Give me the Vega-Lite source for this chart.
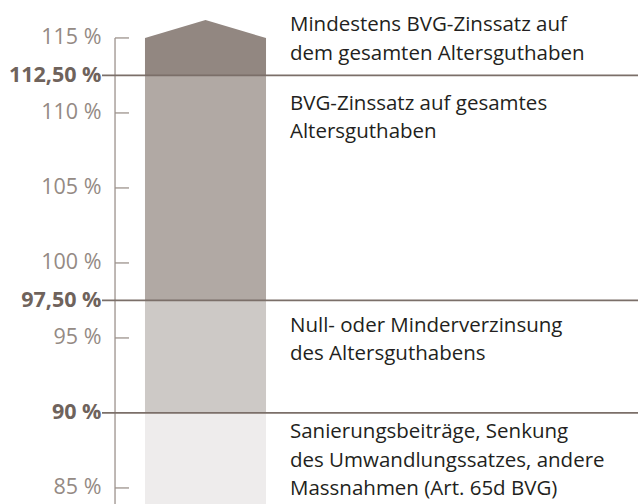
{
  "$schema": "https://vega.github.io/schema/vega-lite/v6.json",
  "width": 536,
  "height": 504,
  "autosize": "none",
  "padding": {"left": 102, "top": 0, "right": 0, "bottom": 0},
  "background": "white",
  "config": {"view": {"stroke": null}, "font": "Open Sans"},
  "datasets": {
    "bands": [
      {"band": "Sanierung", "lo": 83.93, "hi": 90},
      {"band": "Null", "lo": 90, "hi": 97.5},
      {"band": "BVG", "lo": 97.5, "hi": 112.5}
    ],
    "peak": [
      {"px": 8.02, "py": 115},
      {"px": 19.31, "py": 116.2},
      {"px": 30.6, "py": 115}
    ],
    "ticks": [{"v": 85}, {"v": 95}, {"v": 100}, {"v": 105}, {"v": 110}, {"v": 115}],
    "levels": [{"v": 90}, {"v": 97.5}, {"v": 112.5}],
    "notes": [
      {"t": ["Mindestens BVG-Zinssatz auf", "dem gesamten Altersguthaben"], "v": 115.85},
      {"t": ["BVG-Zinssatz auf gesamtes", "Altersguthaben"], "v": 110.6},
      {"t": ["Null- oder Minderverzinsung", "des Altersguthabens"], "v": 95.8},
      {"t": ["Sanierungsbeiträge, Senkung", "des Umwandlungssatzes, andere", "Massnahmen (Art. 65d BVG)"], "v": 88.7}
    ]
  },
  "layer": [
    {
      "data": {"name": "bands"},
      "mark": {"type": "rect"},
      "encoding": {
        "x": {"datum": 8.02, "type": "quantitative", "scale": {"domain": [0, 100], "nice": false, "zero": false}, "axis": null},
        "x2": {"datum": 30.6},
        "y": {"field": "lo", "type": "quantitative",
              "scale": {"domain": [83.93, 117.53], "nice": false, "zero": false},
              "axis": {
                "orient": "left", "offset": -13, "domain": false, "ticks": false, "grid": false,
                "values": [85, 90, 95, 97.5, 100, 105, 110, 112.5, 115],
                "labelExpr": "datum.value == 112.5 ? '112,50 %' : datum.value == 97.5 ? '97,50 %' : datum.value + ' %'",
                "labelFontSize": 21.5,
                "labelFont": "Open Sans",
                "labelPadding": 14,
                "labelFontWeight": {"condition": {"test": "datum.value == 112.5 || datum.value == 97.5 || datum.value == 90", "value": "bold"}, "value": "normal"},
                "labelColor": {"condition": {"test": "datum.value == 112.5 || datum.value == 97.5 || datum.value == 90", "value": "#6f635c"}, "value": "#948a84"},
                "title": null
              }},
        "y2": {"field": "hi"},
        "color": {"field": "band", "type": "nominal", "legend": null,
                  "scale": {"domain": ["Sanierung", "Null", "BVG"], "range": ["#eeecec", "#cdc9c6", "#b1a9a4"]}}
      }
    },
    {
      "data": {"name": "peak"},
      "mark": {"type": "area", "color": "#928781", "orient": "vertical"},
      "encoding": {
        "x": {"field": "px", "type": "quantitative"},
        "y": {"field": "py", "type": "quantitative"},
        "y2": {"datum": 112.5}
      }
    },
    {
      "data": {"name": "ticks"},
      "mark": {"type": "rule", "color": "#9c928c", "strokeWidth": 1.3},
      "encoding": {
        "x": {"datum": 2.43, "type": "quantitative"},
        "x2": {"datum": 5.04},
        "y": {"field": "v", "type": "quantitative"}
      }
    },
    {
      "data": {"values": [{"a": 1}]},
      "mark": {"type": "rule", "color": "#9c928c", "strokeWidth": 1.3},
      "encoding": {
        "x": {"datum": 2.43, "type": "quantitative"},
        "y": {"datum": 115, "type": "quantitative"},
        "y2": {"datum": 83.93}
      }
    },
    {
      "data": {"name": "levels"},
      "mark": {"type": "rule", "color": "#7b6f69", "strokeWidth": 1.8},
      "encoding": {
        "x": {"datum": 0, "type": "quantitative"},
        "x2": {"datum": 100},
        "y": {"field": "v", "type": "quantitative"}
      }
    },
    {
      "data": {"name": "notes"},
      "mark": {"type": "text", "align": "left", "baseline": "middle", "fontSize": 20.5, "lineHeight": 28.5, "color": "#231f20", "font": "Open Sans"},
      "encoding": {
        "x": {"datum": 35.07, "type": "quantitative"},
        "y": {"field": "v", "type": "quantitative"},
        "text": {"field": "t"}
      }
    }
  ]
}
